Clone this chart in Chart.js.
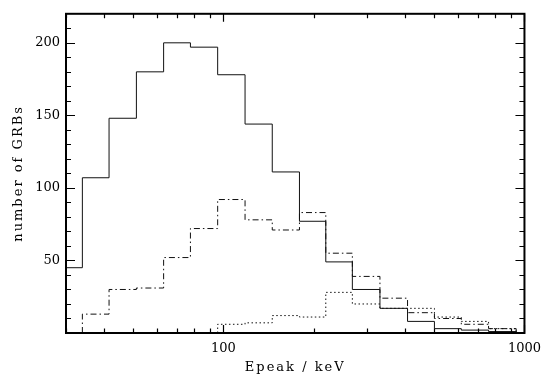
<!DOCTYPE html>
<html>
<head>
<meta charset="utf-8">
<script src="https://cdn.jsdelivr.net/npm/chart.js@4/dist/chart.umd.min.js"></script>
<style>
  html, body { margin: 0; padding: 0; background: #ffffff; }
  #wrap { width: 549px; height: 377px; position: relative; }
</style>
</head>
<body>
<div id="wrap"><canvas id="c" width="549" height="377"></canvas></div>
<script>
// Histogram bin edges (keV), log-spaced
const binEdges = [27.6, 34.0, 41.7, 51.4, 63.3, 77.7, 95.7, 118.0, 145.3, 178.9, 218.8, 268.1, 331.1, 408.9, 502.3, 616.8, 760.0, 938.7];
// Counts per bin
const solidCounts   = [45, 107, 148, 180, 200, 197, 178, 144, 111, 77, 49, 30, 17, 8, 3, 2, 1];
const dashDotCounts = [0, 13, 30, 31, 52, 72, 92, 78, 71, 83, 55, 39, 24, 14, 10, 6, 3];
const dottedCounts  = [0, 0, 0, 0, 0, 0, 6, 7, 12, 11, 28, 20, 17, 17, 11, 8, 3];

// Axis ticks
const xMajorTicks = [100, 1000];
const xMinorTicks = [30, 40, 50, 60, 70, 80, 90, 200, 300, 400, 500, 600, 700, 800, 900];
const yMajorTicks = [50, 100, 150, 200];
const yMinorTicks = [10, 20, 30, 40, 60, 70, 80, 90, 110, 120, 130, 140, 160, 170, 180, 190, 210];

const xRange = [30, 1000];
const yRange = [0, 220];
const xTitle = 'Epeak / keV';
const yTitle = 'number of GRBs';

function stepPoints(counts) {
  const n = counts.length;
  let first = counts.findIndex(v => v > 0);
  const pts = [{ x: binEdges[first], y: 0 }];
  for (let i = first; i < n; i++) pts.push({ x: binEdges[i], y: counts[i] });
  pts.push({ x: binEdges[n], y: counts[n - 1] });
  pts.push({ x: binEdges[n], y: 0 });
  return pts;
}

const FONT = "'DejaVu Serif', serif";

const frameTicks = {
  id: 'frameTicks',
  afterDatasetsDraw(chart) {
    const { ctx, chartArea: a, scales } = chart;
    const xs = scales.x, ys = scales.y;
    ctx.save();
    ctx.strokeStyle = '#000';
    ctx.lineWidth = 1.2;
    ctx.beginPath();
    const xt = (v, len) => {
      const px = Math.round(xs.getPixelForValue(v)) + 0.5;
      ctx.moveTo(px, a.bottom); ctx.lineTo(px, a.bottom - len);
      ctx.moveTo(px, a.top); ctx.lineTo(px, a.top + len);
    };
    const yt = (v, len) => {
      const py = Math.round(ys.getPixelForValue(v)) + 0.5;
      ctx.moveTo(a.left, py); ctx.lineTo(a.left + len, py);
      ctx.moveTo(a.right, py); ctx.lineTo(a.right - len, py);
    };
    xMajorTicks.forEach(v => xt(v, 8));
    xMinorTicks.forEach(v => xt(v, 4.5));
    yMajorTicks.forEach(v => yt(v, 9));
    yMinorTicks.forEach(v => yt(v, 5));
    ctx.stroke();
    ctx.lineWidth = 2;
    ctx.strokeRect(a.left, a.top, a.right - a.left, a.bottom - a.top);
    ctx.restore();
  },
  afterLayout(chart) {
    ['x', 'y'].forEach(k => {
      const s = chart.scales[k];
      if (s && !s._wrappedTitle) {
        const orig = s.drawTitle;
        s.drawTitle = function () {
          const c = this.ctx;
          c.save();
          c.letterSpacing = k === 'x' ? '2px' : '2px';
          orig.apply(this, arguments);
          c.restore();
        };
        s._wrappedTitle = true;
      }
    });
  }
};

new Chart(document.getElementById('c'), {
  type: 'scatter',
  data: {
    datasets: [
      { data: stepPoints(solidCounts), showLine: true, stepped: 'before', borderColor: '#111', borderWidth: 1, pointRadius: 0, fill: false },
      { data: stepPoints(dashDotCounts), showLine: true, stepped: 'before', borderColor: '#111', borderWidth: 1, borderDash: [6, 3, 1.5, 3], pointRadius: 0, fill: false },
      { data: stepPoints(dottedCounts), showLine: true, stepped: 'before', borderColor: '#111', borderWidth: 1, borderDash: [1.5, 2.5], pointRadius: 0, fill: false }
    ]
  },
  options: {
    responsive: false,
    animation: false,
    devicePixelRatio: 1,
    layout: { padding: { left: 0, right: 24, top: 6, bottom: 0 } },
    plugins: { legend: { display: false }, tooltip: { enabled: false } },
    scales: {
      x: {
        type: 'logarithmic',
        min: xRange[0], max: xRange[1],
        afterBuildTicks: s => { s.ticks = xMajorTicks.map(v => ({ value: v })); },
        afterFit: s => { s.height = 44; },
        grid: { display: false, drawTicks: false },
        border: { display: false },
        ticks: { color: '#000', font: { family: FONT, size: 13 }, padding: 8, maxRotation: 0, autoSkip: false, callback: v => String(v) },
        title: { display: true, text: xTitle, color: '#000', font: { family: FONT, size: 13 }, padding: { top: 0, bottom: 2 } }
      },
      y: {
        type: 'linear',
        min: yRange[0], max: yRange[1],
        afterBuildTicks: s => { s.ticks = yMajorTicks.map(v => ({ value: v })); },
        afterFit: s => { s.width = 66; },
        grid: { display: false, drawTicks: false },
        border: { display: false },
        ticks: { color: '#000', font: { family: FONT, size: 13 }, padding: 6, callback: v => String(v) },
        title: { display: true, text: yTitle, color: '#000', font: { family: FONT, size: 13 }, padding: { top: 11, bottom: 0 } }
      }
    }
  },
  plugins: [frameTicks]
});
</script>
</body>
</html>
